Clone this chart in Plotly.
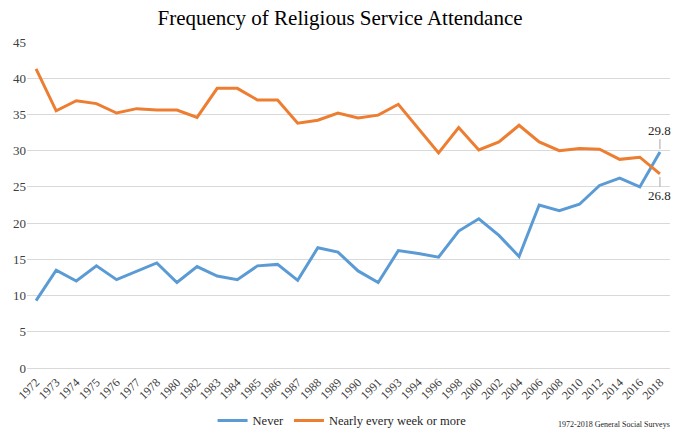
import plotly.graph_objects as go

years = ["1972", "1973", "1974", "1975", "1976", "1977", "1978", "1980", "1982", "1983",
         "1984", "1985", "1986", "1987", "1988", "1989", "1990", "1991", "1993", "1994",
         "1996", "1998", "2000", "2002", "2004", "2006", "2008", "2010", "2012", "2014",
         "2016", "2018"]
never = [9.3, 13.5, 12.0, 14.1, 12.2, 13.3, 14.5, 11.8, 14.0, 12.7,
         12.2, 14.1, 14.3, 12.1, 16.6, 16.0, 13.4, 11.8, 16.2, 15.8,
         15.3, 18.9, 20.6, 18.3, 15.4, 22.5, 21.7, 22.6, 25.2, 26.2,
         25.0, 29.8]
weekly = [41.3, 35.5, 36.9, 36.5, 35.2, 35.8, 35.6, 35.6, 34.6, 38.6,
          38.6, 37.0, 37.0, 33.8, 34.2, 35.2, 34.5, 34.9, 36.4, 33.0,
          29.7, 33.2, 30.1, 31.2, 33.5, 31.2, 30.0, 30.3, 30.2, 28.8,
          29.1, 26.8]
y_ticks = [0, 5, 10, 15, 20, 25, 30, 35, 40, 45]

serif = "Liberation Serif, Times New Roman, serif"

fig = go.Figure()
fig.add_trace(go.Scatter(x=years, y=never, mode="lines", name="Never",
                         line=dict(color="#5B9BD5", width=3)))
fig.add_trace(go.Scatter(x=years, y=weekly, mode="lines", name="Nearly every week or more",
                         line=dict(color="#ED7D31", width=3)))

last = len(years) - 1
fig.add_annotation(x=last, y=never[-1], text=f"{never[-1]:.1f}", showarrow=True,
                   ax=0, ay=-22, arrowhead=0, arrowwidth=1, arrowcolor="#A6A6A6",
                   standoff=3, font=dict(family=serif, size=13, color="#262626"))
fig.add_annotation(x=last, y=weekly[-1], text=f"{weekly[-1]:.1f}", showarrow=True,
                   ax=0, ay=22, arrowhead=0, arrowwidth=1, arrowcolor="#A6A6A6",
                   standoff=3, font=dict(family=serif, size=13, color="#262626"))
fig.add_annotation(x=1, y=0, xref="paper", yref="paper", xanchor="right", yanchor="middle",
                   xshift=2, yshift=-56, showarrow=False,
                   text="1972-2018 General Social Surveys",
                   font=dict(family=serif, size=8, color="#262626"))

fig.update_layout(
    width=680, height=434,
    margin=dict(l=27, r=10, t=42, b=66),
    paper_bgcolor="white", plot_bgcolor="white",
    title=dict(text="Frequency of Religious Service Attendance", x=0.5, xanchor="center",
               y=0.96, yanchor="middle",
               font=dict(family=serif, size=21, color="#000000")),
    font=dict(family=serif, size=12, color="#404040"),
    showlegend=True,
    legend=dict(orientation="h", x=0.49, xanchor="center", yref="container",
                y=0.03, yanchor="middle", itemwidth=30,
                font=dict(family=serif, size=12.5, color="#262626")),
)
fig.update_xaxes(type="category", range=[-0.45, 31.5], tickangle=-45,
                 showgrid=False, showline=False, ticks="", automargin=False,
                 ticklabelstandoff=4,
                 tickfont=dict(family=serif, size=12, color="#404040"))
fig.update_yaxes(range=[0, 45], tickvals=y_ticks, showgrid=True, gridcolor="#D9D9D9",
                 gridwidth=1, zeroline=True, zerolinecolor="#D9D9D9", zerolinewidth=1,
                 showline=False, ticks="", automargin=False,
                 tickfont=dict(family=serif, size=13, color="#404040"))

fig.write_html("out.html", config={"displayModeBar": False},
               post_script="document.body.style.margin='0';")
